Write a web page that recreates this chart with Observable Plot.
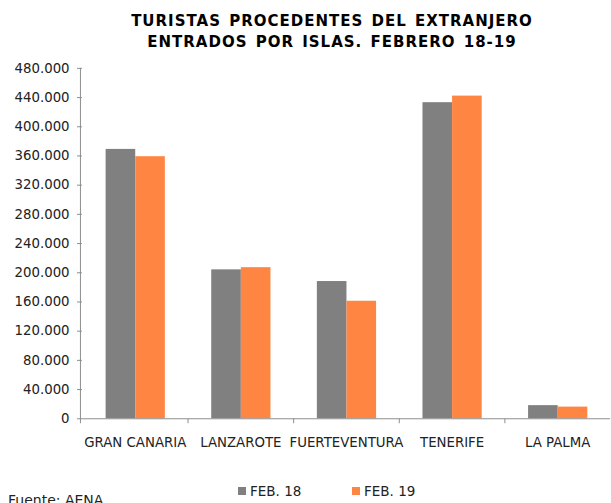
<!DOCTYPE html>
<html><head><meta charset="utf-8">
<script src="https://cdn.jsdelivr.net/npm/d3@7"></script>
<script src="https://cdn.jsdelivr.net/npm/@observablehq/plot@0.6"></script>
<style>
body{margin:0;background:#fff;overflow:hidden;font-family:"DejaVu Sans",sans-serif;}
#wrap{position:relative;width:611px;height:503px;overflow:hidden;background:#fff;}
#title{position:absolute;top:11px;left:0;width:664px;text-align:center;font-weight:bold;font-size:15px;letter-spacing:1px;word-spacing:2px;line-height:21px;color:#000;}
#chart{position:absolute;top:58px;left:0;}
.leg{position:absolute;top:483px;font-size:13.5px;color:#222;line-height:16px;}
.sw{display:inline-block;width:8px;height:8px;margin-right:4px;vertical-align:1px;}
#src{position:absolute;left:8px;top:492px;font-size:14px;color:#222;line-height:16px;}
</style></head>
<body>
<div id="wrap">
  <div id="title">TURISTAS PROCEDENTES DEL EXTRANJERO<br>ENTRADOS POR ISLAS. FEBRERO 18-19</div>
  <div id="chart"></div>
  <div class="leg" id="leg0" style="left:238px"></div>
  <div class="leg" id="leg1" style="left:352px"></div>
  <div id="src">Fuente: AENA</div>
</div>
<script>
const islands = ["GRAN CANARIA", "LANZAROTE", "FUERTEVENTURA", "TENERIFE", "LA PALMA"];
const series = ["FEB. 18", "FEB. 19"];
const feb18 = [369000, 204000, 188000, 433000, 18000];
const feb19 = [359000, 207000, 161000, 442000, 16000];
const yTicks = [0, 40000, 80000, 120000, 160000, 200000, 240000, 280000, 320000, 360000, 400000, 440000, 480000];
const colors = ["#808080", "#ff8542"];

const data = islands.flatMap((isl, i) => [
  {island: isl, series: series[0], value: feb18[i]},
  {island: isl, series: series[1], value: feb19[i]}
]);
const fmt = d => d3.format(",")(d).replace(/,/g, ".");

const chart = Plot.plot({
  width: 619, height: 400,
  marginLeft: 81, marginRight: 0, marginTop: 10, marginBottom: 35,
  style: {fontFamily: "DejaVu Sans", fontSize: "13.5px", color: "#222", background: "transparent"},
  fx: {domain: islands, padding: 0, label: null, axis: "bottom", tickSize: 0, tickPadding: 18.5},
  x: {domain: series, paddingInner: 0, paddingOuter: 0.76, axis: null},
  y: {domain: [0, 480000], ticks: yTicks, tickFormat: fmt, tickSize: 5, tickPadding: 8, label: null, grid: false},
  color: {domain: series, range: colors},
  marks: [
    Plot.barY(data, {fx: "island", x: "series", y: "value", fill: "series"}),
    Plot.ruleY([0], {stroke: "#8c8c8c"})
  ]
});
document.getElementById("chart").appendChild(chart);

// axis line and category separator ticks
const fxS = chart.scale("fx"), yS = chart.scale("y");
const svg = d3.select(chart);
const y0 = yS.apply(0), yTop = yS.apply(480000);
const g = svg.append("g").attr("stroke", "#8c8c8c").attr("stroke-width", 1);
g.append("line").attr("x1", 81.5).attr("x2", 81.5).attr("y1", yTop).attr("y2", y0 + 5);
islands.slice(1).forEach(d => {
  const x = Math.round(fxS.apply(d)) + 0.5;
  g.append("line").attr("x1", x).attr("x2", x).attr("y1", y0).attr("y2", y0 + 5);
});
svg.selectAll("g[aria-label='y-axis tick'] path, g[aria-label='y-axis'] path").attr("stroke", "#8c8c8c");

series.forEach((s, i) => {
  const el = document.getElementById("leg" + i);
  el.innerHTML = `<span class="sw" style="background:${colors[i]}"></span>${s}`;
});
</script>
</body></html>
